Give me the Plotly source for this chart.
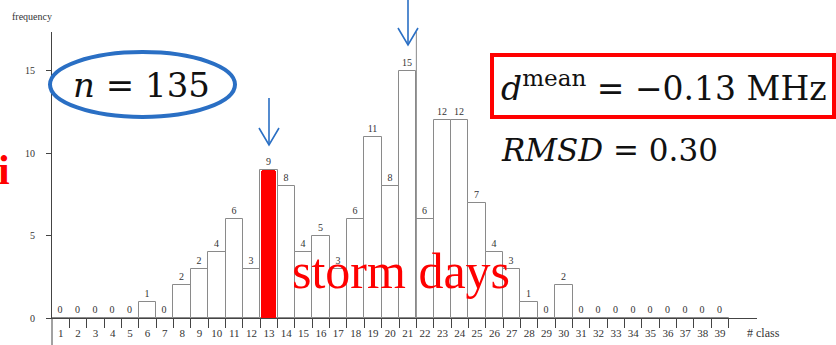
import plotly.graph_objects as go

# ---------------- data ----------------
classes = list(range(1, 40))
freq = [0, 0, 0, 0, 0, 1, 0, 2, 3, 4, 6, 3, 9, 8, 4, 5, 3, 6, 11, 8,
        15, 6, 12, 12, 7, 4, 3, 1, 0, 2, 0, 0, 0, 0, 0, 0, 0, 0, 0]
# labels printed above the bars (as in the original figure; class 9 is labelled "2")
bar_labels = ["0", "0", "0", "0", "0", "1", "0", "2", "2", "4", "6", "3", "9", "8", "4", "5", "3", "6", "11", "8",
              "15", "6", "12", "12", "7", "4", "3", "1", "0", "2", "0", "0", "0", "0", "0", "0", "0", "0", "0"]
storm_class = [13]
storm_freq = [9]
y_ticks = [0, 5, 10, 15]
boundaries = [c + 0.5 for c in classes]

# ---------------- layout geometry (pixels of the 836x345 page) ----------------
W, H = 836, 345
PL, PR, PT, PB = 52, 757, 32, 318


def px(x):
    return (x - PL) / (PR - PL)


def py(y):
    return (PB - y) / (PB - PT)


SERIF = "Liberation Serif, Times New Roman, serif"
MATH = "DejaVu Serif, serif"
BLUE = "#2a6fc4"
RED = "#ff0000"

fig = go.Figure()
fig.add_trace(go.Bar(
    x=classes, y=freq, width=1,
    marker=dict(color="white", line=dict(color="#8a8a8a", width=1)),
    text=bar_labels, textposition="outside", cliponaxis=False,
    textfont=dict(family=SERIF, size=10, color="#333333"),
    hoverinfo="x+y", showlegend=False,
))
fig.add_trace(go.Bar(
    x=storm_class, y=storm_freq, width=0.86,
    marker=dict(color=RED, line=dict(width=0), cornerradius=3),
    hoverinfo="x+y", showlegend=False,
))

fig.update_layout(
    width=W, height=H,
    margin=dict(l=PL, r=W - PR, t=PT, b=H - PB, pad=0, autoexpand=False),
    paper_bgcolor="white", plot_bgcolor="white",
    barmode="overlay", bargap=0,
    xaxis=dict(
        range=[0.5, 0.5 + (PR - PL) / 17.35],
        tickmode="array", tickvals=classes, ticktext=[str(c) for c in classes],
        ticks="", ticklabelstandoff=5, automargin=False,
        tickfont=dict(family=SERIF, size=11, color="#333333"),
        minor=dict(tickmode="array", tickvals=boundaries, ticks="outside",
                   ticklen=9, tickcolor="#444444", tickwidth=1, showgrid=False),
        showline=True, linecolor="#444444", linewidth=1,
        showgrid=False, zeroline=False, fixedrange=True,
    ),
    yaxis=dict(
        range=[0, (PB - PT) / 16.5],
        tickmode="array", tickvals=y_ticks, ticktext=[str(v) for v in y_ticks],
        ticks="outside", ticklen=5, tickcolor="#444444",
        ticklabelstandoff=9, automargin=False,
        tickfont=dict(family=SERIF, size=10, color="#333333"),
        showline=True, linecolor="#444444", linewidth=1,
        showgrid=False, zeroline=False, fixedrange=True,
    ),
    font=dict(family=SERIF),
)

shapes = []
# y-axis line continues below the zero line
shapes.append(dict(type="line", xref="paper", yref="paper", x0=0, x1=0, y0=py(H), y1=0,
                   line=dict(color="#444444", width=1)))
# tall marker line at the right edge of class 21
shapes.append(dict(type="line", xref="x", yref="paper", x0=21.5, x1=21.5, y0=0, y1=1,
                   line=dict(color="#8a8a8a", width=1)))
# blue ellipse around n = 135
shapes.append(dict(type="circle", xref="paper", yref="paper",
                   x0=px(50), x1=px(235), y0=py(117), y1=py(52),
                   line=dict(color=BLUE, width=4)))
# red box around d^mean
shapes.append(dict(type="rect", xref="paper", yref="paper",
                   x0=px(492), x1=px(834), y0=py(117), y1=py(55),
                   line=dict(color=RED, width=4)))


def arrow(xc, ytop, ybot, arm=10, armh=17):
    pts_line = f"M {px(xc)} {py(ytop)} L {px(xc)} {py(ybot)}"
    pts_v = (f"M {px(xc - arm)} {py(ybot - armh)} L {px(xc)} {py(ybot)} "
             f"L {px(xc + arm)} {py(ybot - armh)}")
    return [dict(type="path", xref="paper", yref="paper", path=pts_line,
                 line=dict(color=BLUE, width=1.6)),
            dict(type="path", xref="paper", yref="paper", path=pts_v,
                 line=dict(color=BLUE, width=1.6))]


shapes += arrow(269, 98, 145)
shapes += arrow(408, 0, 45)
fig.update_layout(shapes=shapes)

ann = []
ann.append(dict(text="frequency", xref="paper", yref="paper", x=px(10), y=py(17),
                xanchor="left", yanchor="middle", showarrow=False,
                font=dict(family=SERIF, size=10, color="#333333")))
ann.append(dict(text="# class", xref="paper", yref="paper", x=px(745), y=py(333),
                xanchor="left", yanchor="middle", showarrow=False,
                font=dict(family=SERIF, size=12, color="#333333")))
ann.append(dict(text="<i>n</i> = 135", xref="paper", yref="paper", x=px(141), y=py(85),
                xanchor="center", yanchor="middle", showarrow=False,
                font=dict(family=MATH, size=34, color="#111111")))
ann.append(dict(text="<i>d</i><sup>mean</sup> = −0.13 MHz", xref="paper", yref="paper",
                x=px(499), y=py(86), xanchor="left", yanchor="middle", showarrow=False,
                font=dict(family=MATH, size=33, color="#111111")))
ann.append(dict(text="<i>RMSD</i> = 0.30", xref="paper", yref="paper",
                x=px(499), y=py(150), xanchor="left", yanchor="middle", showarrow=False,
                font=dict(family=MATH, size=31, color="#111111")))
ann.append(dict(text="storm days", xref="paper", yref="paper", x=px(401), y=py(271),
                xanchor="center", yanchor="middle", showarrow=False,
                font=dict(family=SERIF, size=50, color=RED)))
ann.append(dict(text="<b>i</b>", xref="paper", yref="paper", x=px(-4), y=py(170),
                xanchor="left", yanchor="middle", showarrow=False,
                font=dict(family=SERIF, size=42, color=RED)))
fig.update_layout(annotations=ann)

fig.write_html("out.html")
